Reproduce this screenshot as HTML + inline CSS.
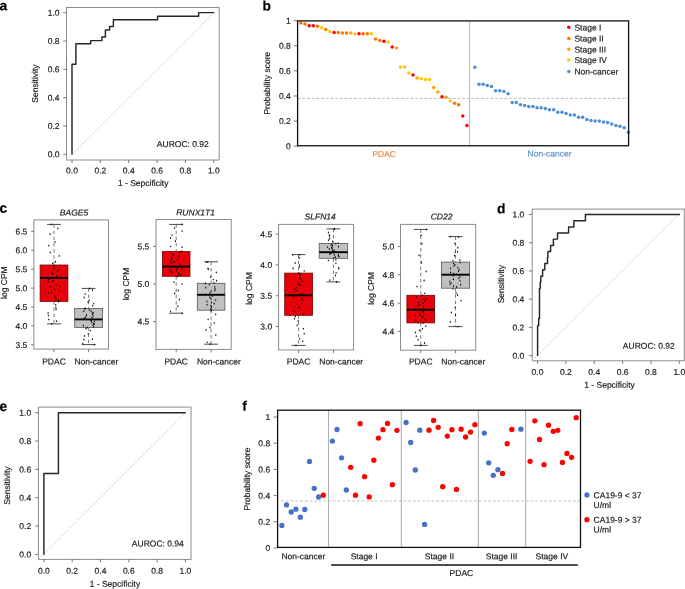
<!DOCTYPE html>
<html><head><meta charset="utf-8"><title>Figure</title>
<style>
html,body{margin:0;padding:0;background:#fff;width:685px;height:589px;overflow:hidden}
svg{display:block;will-change:transform}
text{font-family:"Liberation Sans",sans-serif;stroke:currentColor;stroke-width:0.18px;text-rendering:geometricPrecision}
</style></head><body>
<svg width="685" height="589" viewBox="0 0 685 589">
<rect x="0" y="0" width="685" height="589" fill="#fff"/>
<text x="-0.6" y="10.3" transform="rotate(0.05 -0.6 10.3)" font-size="13.8" font-weight="bold" fill="#000" color="#000">a</text>
<rect x="66.5" y="7.5" width="152.7" height="152.5" fill="none" stroke="#8c8c8c" stroke-width="1.0" />
<line x1="63.2" y1="154.3" x2="66.5" y2="154.3" stroke="#5a5a5a" stroke-width="0.8" />
<text x="59.6" y="157.35000000000002" transform="rotate(0.05 59.6 157.35000000000002)" font-size="8.5" text-anchor="end" fill="#1a1a1a" color="#1a1a1a" >0.0</text>
<line x1="63.2" y1="125.98" x2="66.5" y2="125.98" stroke="#5a5a5a" stroke-width="0.8" />
<text x="59.6" y="129.03" transform="rotate(0.05 59.6 129.03)" font-size="8.5" text-anchor="end" fill="#1a1a1a" color="#1a1a1a" >0.2</text>
<line x1="63.2" y1="97.66" x2="66.5" y2="97.66" stroke="#5a5a5a" stroke-width="0.8" />
<text x="59.6" y="100.71" transform="rotate(0.05 59.6 100.71)" font-size="8.5" text-anchor="end" fill="#1a1a1a" color="#1a1a1a" >0.4</text>
<line x1="63.2" y1="69.34" x2="66.5" y2="69.34" stroke="#5a5a5a" stroke-width="0.8" />
<text x="59.6" y="72.39" transform="rotate(0.05 59.6 72.39)" font-size="8.5" text-anchor="end" fill="#1a1a1a" color="#1a1a1a" >0.6</text>
<line x1="63.2" y1="41.019999999999996" x2="66.5" y2="41.019999999999996" stroke="#5a5a5a" stroke-width="0.8" />
<text x="59.6" y="44.06999999999999" transform="rotate(0.05 59.6 44.06999999999999)" font-size="8.5" text-anchor="end" fill="#1a1a1a" color="#1a1a1a" >0.8</text>
<line x1="63.2" y1="12.699999999999989" x2="66.5" y2="12.699999999999989" stroke="#5a5a5a" stroke-width="0.8" />
<text x="59.6" y="15.74999999999999" transform="rotate(0.05 59.6 15.74999999999999)" font-size="8.5" text-anchor="end" fill="#1a1a1a" color="#1a1a1a" >1.0</text>
<line x1="72.0" y1="160.0" x2="72.0" y2="163.0" stroke="#5a5a5a" stroke-width="0.8" />
<text x="72.0" y="173.5" transform="rotate(0.05 72.0 173.5)" font-size="8.5" text-anchor="middle" fill="#1a1a1a" color="#1a1a1a" >0.0</text>
<line x1="100.36" y1="160.0" x2="100.36" y2="163.0" stroke="#5a5a5a" stroke-width="0.8" />
<text x="100.36" y="173.5" transform="rotate(0.05 100.36 173.5)" font-size="8.5" text-anchor="middle" fill="#1a1a1a" color="#1a1a1a" >0.2</text>
<line x1="128.72" y1="160.0" x2="128.72" y2="163.0" stroke="#5a5a5a" stroke-width="0.8" />
<text x="128.72" y="173.5" transform="rotate(0.05 128.72 173.5)" font-size="8.5" text-anchor="middle" fill="#1a1a1a" color="#1a1a1a" >0.4</text>
<line x1="157.08" y1="160.0" x2="157.08" y2="163.0" stroke="#5a5a5a" stroke-width="0.8" />
<text x="157.08" y="173.5" transform="rotate(0.05 157.08 173.5)" font-size="8.5" text-anchor="middle" fill="#1a1a1a" color="#1a1a1a" >0.6</text>
<line x1="185.44" y1="160.0" x2="185.44" y2="163.0" stroke="#5a5a5a" stroke-width="0.8" />
<text x="185.44" y="173.5" transform="rotate(0.05 185.44 173.5)" font-size="8.5" text-anchor="middle" fill="#1a1a1a" color="#1a1a1a" >0.8</text>
<line x1="213.8" y1="160.0" x2="213.8" y2="163.0" stroke="#5a5a5a" stroke-width="0.8" />
<text x="213.8" y="173.5" transform="rotate(0.05 213.8 173.5)" font-size="8.5" text-anchor="middle" fill="#1a1a1a" color="#1a1a1a" >1.0</text>
<line x1="66.5" y1="160.0" x2="219.2" y2="7.5" stroke="#c8c8c8" stroke-width="1.0" stroke-dasharray="1.9 1.8"/>
<path d="M72,154.1 V64.3 H75.9 V43.7 H90.7 V40.6 H101.9 V37.0 H105.4 V29.9 H109.6 V26.5 H113.4 V19.8 H157.6 V16.2 H198.6 V12.6 H213.8" fill="none" stroke="#262626" stroke-width="1.45" stroke-linejoin="round" stroke-linecap="round"/>
<text x="208.8" y="147.0" transform="rotate(0.05 208.8 147.0)" font-size="8.5" text-anchor="end" fill="#1a1a1a" color="#1a1a1a" >AUROC: 0.92</text>
<text x="143.2" y="185.9" transform="rotate(0.05 143.2 185.9)" font-size="8.5" text-anchor="middle" fill="#1a1a1a" color="#1a1a1a" >1 - Sepcificity</text>
<text transform="translate(38.4,83.6) rotate(-90)" font-size="8.5" text-anchor="middle" fill="#1a1a1a" color="#1a1a1a">Sensitivity</text>
<text x="497.0" y="213.3" transform="rotate(0.05 497.0 213.3)" font-size="13.8" font-weight="bold" fill="#000" color="#000">d</text>
<rect x="532.2" y="209.1" width="152.0999999999999" height="151.70000000000002" fill="none" stroke="#8c8c8c" stroke-width="1.0" />
<line x1="528.9000000000001" y1="355.6" x2="532.2" y2="355.6" stroke="#5a5a5a" stroke-width="0.8" />
<text x="524.3" y="358.65000000000003" transform="rotate(0.05 524.3 358.65000000000003)" font-size="8.5" text-anchor="end" fill="#1a1a1a" color="#1a1a1a" >0.0</text>
<line x1="528.9000000000001" y1="327.38" x2="532.2" y2="327.38" stroke="#5a5a5a" stroke-width="0.8" />
<text x="524.3" y="330.43" transform="rotate(0.05 524.3 330.43)" font-size="8.5" text-anchor="end" fill="#1a1a1a" color="#1a1a1a" >0.2</text>
<line x1="528.9000000000001" y1="299.16" x2="532.2" y2="299.16" stroke="#5a5a5a" stroke-width="0.8" />
<text x="524.3" y="302.21000000000004" transform="rotate(0.05 524.3 302.21000000000004)" font-size="8.5" text-anchor="end" fill="#1a1a1a" color="#1a1a1a" >0.4</text>
<line x1="528.9000000000001" y1="270.94" x2="532.2" y2="270.94" stroke="#5a5a5a" stroke-width="0.8" />
<text x="524.3" y="273.99" transform="rotate(0.05 524.3 273.99)" font-size="8.5" text-anchor="end" fill="#1a1a1a" color="#1a1a1a" >0.6</text>
<line x1="528.9000000000001" y1="242.72" x2="532.2" y2="242.72" stroke="#5a5a5a" stroke-width="0.8" />
<text x="524.3" y="245.77" transform="rotate(0.05 524.3 245.77)" font-size="8.5" text-anchor="end" fill="#1a1a1a" color="#1a1a1a" >0.8</text>
<line x1="528.9000000000001" y1="214.5" x2="532.2" y2="214.5" stroke="#5a5a5a" stroke-width="0.8" />
<text x="524.3" y="217.55" transform="rotate(0.05 524.3 217.55)" font-size="8.5" text-anchor="end" fill="#1a1a1a" color="#1a1a1a" >1.0</text>
<line x1="537.5" y1="360.8" x2="537.5" y2="363.8" stroke="#5a5a5a" stroke-width="0.8" />
<text x="537.5" y="375.0" transform="rotate(0.05 537.5 375.0)" font-size="8.5" text-anchor="middle" fill="#1a1a1a" color="#1a1a1a" >0.0</text>
<line x1="565.86" y1="360.8" x2="565.86" y2="363.8" stroke="#5a5a5a" stroke-width="0.8" />
<text x="565.86" y="375.0" transform="rotate(0.05 565.86 375.0)" font-size="8.5" text-anchor="middle" fill="#1a1a1a" color="#1a1a1a" >0.2</text>
<line x1="594.22" y1="360.8" x2="594.22" y2="363.8" stroke="#5a5a5a" stroke-width="0.8" />
<text x="594.22" y="375.0" transform="rotate(0.05 594.22 375.0)" font-size="8.5" text-anchor="middle" fill="#1a1a1a" color="#1a1a1a" >0.4</text>
<line x1="622.5799999999999" y1="360.8" x2="622.5799999999999" y2="363.8" stroke="#5a5a5a" stroke-width="0.8" />
<text x="622.5799999999999" y="375.0" transform="rotate(0.05 622.5799999999999 375.0)" font-size="8.5" text-anchor="middle" fill="#1a1a1a" color="#1a1a1a" >0.6</text>
<line x1="650.9399999999999" y1="360.8" x2="650.9399999999999" y2="363.8" stroke="#5a5a5a" stroke-width="0.8" />
<text x="650.9399999999999" y="375.0" transform="rotate(0.05 650.9399999999999 375.0)" font-size="8.5" text-anchor="middle" fill="#1a1a1a" color="#1a1a1a" >0.8</text>
<line x1="679.3" y1="360.8" x2="679.3" y2="363.8" stroke="#5a5a5a" stroke-width="0.8" />
<text x="679.3" y="375.0" transform="rotate(0.05 679.3 375.0)" font-size="8.5" text-anchor="middle" fill="#1a1a1a" color="#1a1a1a" >1.0</text>
<line x1="532.2" y1="360.8" x2="684.3" y2="209.1" stroke="#c8c8c8" stroke-width="1.0" stroke-dasharray="1.9 1.8"/>
<path d="M537.6,355.4 V325.6 H538.7 V318.4 H539.5 V288.5 H540.2 V282.2 H540.8 V276.3 H542.6 V269.7 H544.8 V263.5 H547.5 V257.5 H547.9 V251.5 H550.6 V245.5 H553.4 V239.1 H557.5 V233.0 H568.6 V226.9 H573.9 V220.7 H585.4 V214.5 H679.3" fill="none" stroke="#262626" stroke-width="1.45" stroke-linejoin="round" stroke-linecap="round"/>
<text x="674.8" y="348.7" transform="rotate(0.05 674.8 348.7)" font-size="8.5" text-anchor="end" fill="#1a1a1a" color="#1a1a1a" >AUROC: 0.92</text>
<text x="609.5" y="387.8" transform="rotate(0.05 609.5 387.8)" font-size="8.5" text-anchor="middle" fill="#1a1a1a" color="#1a1a1a" >1 - Sepcificity</text>
<text transform="translate(504.3,284.2) rotate(-90)" font-size="8.5" text-anchor="middle" fill="#1a1a1a" color="#1a1a1a">Sensitivity</text>
<text x="-0.6" y="411.0" transform="rotate(0.05 -0.6 411.0)" font-size="13.8" font-weight="bold" fill="#000" color="#000">e</text>
<rect x="38.4" y="407.1" width="152.6" height="152.29999999999995" fill="none" stroke="#8c8c8c" stroke-width="1.0" />
<line x1="35.1" y1="554.4" x2="38.4" y2="554.4" stroke="#5a5a5a" stroke-width="0.8" />
<text x="31.2" y="557.4499999999999" transform="rotate(0.05 31.2 557.4499999999999)" font-size="8.5" text-anchor="end" fill="#1a1a1a" color="#1a1a1a" >0.0</text>
<line x1="35.1" y1="526.06" x2="38.4" y2="526.06" stroke="#5a5a5a" stroke-width="0.8" />
<text x="31.2" y="529.1099999999999" transform="rotate(0.05 31.2 529.1099999999999)" font-size="8.5" text-anchor="end" fill="#1a1a1a" color="#1a1a1a" >0.2</text>
<line x1="35.1" y1="497.71999999999997" x2="38.4" y2="497.71999999999997" stroke="#5a5a5a" stroke-width="0.8" />
<text x="31.2" y="500.77" transform="rotate(0.05 31.2 500.77)" font-size="8.5" text-anchor="end" fill="#1a1a1a" color="#1a1a1a" >0.4</text>
<line x1="35.1" y1="469.38" x2="38.4" y2="469.38" stroke="#5a5a5a" stroke-width="0.8" />
<text x="31.2" y="472.43" transform="rotate(0.05 31.2 472.43)" font-size="8.5" text-anchor="end" fill="#1a1a1a" color="#1a1a1a" >0.6</text>
<line x1="35.1" y1="441.03999999999996" x2="38.4" y2="441.03999999999996" stroke="#5a5a5a" stroke-width="0.8" />
<text x="31.2" y="444.09" transform="rotate(0.05 31.2 444.09)" font-size="8.5" text-anchor="end" fill="#1a1a1a" color="#1a1a1a" >0.8</text>
<line x1="35.1" y1="412.7" x2="38.4" y2="412.7" stroke="#5a5a5a" stroke-width="0.8" />
<text x="31.2" y="415.75" transform="rotate(0.05 31.2 415.75)" font-size="8.5" text-anchor="end" fill="#1a1a1a" color="#1a1a1a" >1.0</text>
<line x1="43.9" y1="559.4" x2="43.9" y2="562.4" stroke="#5a5a5a" stroke-width="0.8" />
<text x="43.9" y="573.8" transform="rotate(0.05 43.9 573.8)" font-size="8.5" text-anchor="middle" fill="#1a1a1a" color="#1a1a1a" >0.0</text>
<line x1="72.2" y1="559.4" x2="72.2" y2="562.4" stroke="#5a5a5a" stroke-width="0.8" />
<text x="72.2" y="573.8" transform="rotate(0.05 72.2 573.8)" font-size="8.5" text-anchor="middle" fill="#1a1a1a" color="#1a1a1a" >0.2</text>
<line x1="100.5" y1="559.4" x2="100.5" y2="562.4" stroke="#5a5a5a" stroke-width="0.8" />
<text x="100.5" y="573.8" transform="rotate(0.05 100.5 573.8)" font-size="8.5" text-anchor="middle" fill="#1a1a1a" color="#1a1a1a" >0.4</text>
<line x1="128.8" y1="559.4" x2="128.8" y2="562.4" stroke="#5a5a5a" stroke-width="0.8" />
<text x="128.8" y="573.8" transform="rotate(0.05 128.8 573.8)" font-size="8.5" text-anchor="middle" fill="#1a1a1a" color="#1a1a1a" >0.6</text>
<line x1="157.1" y1="559.4" x2="157.1" y2="562.4" stroke="#5a5a5a" stroke-width="0.8" />
<text x="157.1" y="573.8" transform="rotate(0.05 157.1 573.8)" font-size="8.5" text-anchor="middle" fill="#1a1a1a" color="#1a1a1a" >0.8</text>
<line x1="185.4" y1="559.4" x2="185.4" y2="562.4" stroke="#5a5a5a" stroke-width="0.8" />
<text x="185.4" y="573.8" transform="rotate(0.05 185.4 573.8)" font-size="8.5" text-anchor="middle" fill="#1a1a1a" color="#1a1a1a" >1.0</text>
<line x1="38.4" y1="559.4" x2="191.0" y2="407.1" stroke="#c8c8c8" stroke-width="1.0" stroke-dasharray="1.9 1.8"/>
<path d="M43.9,554.2 V473.4 H58.4 V412.8 H185.2" fill="none" stroke="#262626" stroke-width="1.45" stroke-linejoin="round" stroke-linecap="round"/>
<text x="183.8" y="546.5" transform="rotate(0.05 183.8 546.5)" font-size="8.5" text-anchor="end" fill="#1a1a1a" color="#1a1a1a" >AUROC: 0.94</text>
<text x="114.9" y="586.7" transform="rotate(0.05 114.9 586.7)" font-size="8.5" text-anchor="middle" fill="#1a1a1a" color="#1a1a1a" >1 - Sepcificity</text>
<text transform="translate(10.3,485.6) rotate(-90)" font-size="8.5" text-anchor="middle" fill="#1a1a1a" color="#1a1a1a">Sensitivity</text>
<text x="262.4" y="10.4" transform="rotate(0.05 262.4 10.4)" font-size="13.8" font-weight="bold" fill="#000" color="#000">b</text>
<line x1="293.6" y1="146.1" x2="297.6" y2="146.1" stroke="#5a5a5a" stroke-width="0.8" />
<text x="290.8" y="149.15" transform="rotate(0.05 290.8 149.15)" font-size="8.5" text-anchor="end" fill="#1a1a1a" color="#1a1a1a" >0</text>
<line x1="293.6" y1="121.02" x2="297.6" y2="121.02" stroke="#5a5a5a" stroke-width="0.8" />
<text x="290.8" y="124.07" transform="rotate(0.05 290.8 124.07)" font-size="8.5" text-anchor="end" fill="#1a1a1a" color="#1a1a1a" >0.2</text>
<line x1="293.6" y1="95.94" x2="297.6" y2="95.94" stroke="#5a5a5a" stroke-width="0.8" />
<text x="290.8" y="98.99" transform="rotate(0.05 290.8 98.99)" font-size="8.5" text-anchor="end" fill="#1a1a1a" color="#1a1a1a" >0.4</text>
<line x1="293.6" y1="70.86" x2="297.6" y2="70.86" stroke="#5a5a5a" stroke-width="0.8" />
<text x="290.8" y="73.91" transform="rotate(0.05 290.8 73.91)" font-size="8.5" text-anchor="end" fill="#1a1a1a" color="#1a1a1a" >0.6</text>
<line x1="293.6" y1="45.78" x2="297.6" y2="45.78" stroke="#5a5a5a" stroke-width="0.8" />
<text x="290.8" y="48.83" transform="rotate(0.05 290.8 48.83)" font-size="8.5" text-anchor="end" fill="#1a1a1a" color="#1a1a1a" >0.8</text>
<line x1="293.6" y1="20.700000000000003" x2="297.6" y2="20.700000000000003" stroke="#5a5a5a" stroke-width="0.8" />
<text x="290.8" y="23.750000000000004" transform="rotate(0.05 290.8 23.750000000000004)" font-size="8.5" text-anchor="end" fill="#1a1a1a" color="#1a1a1a" >1</text>
<text transform="translate(270.2,83.2) rotate(-90)" font-size="8.5" text-anchor="middle" fill="#1a1a1a" color="#1a1a1a">Probability score</text>
<line x1="469.6" y1="20.9" x2="469.6" y2="145.75" stroke="#b8b8b8" stroke-width="1.0" />
<circle cx="300.88" cy="22.90" r="1.75" fill="#ff7300"/>
<circle cx="305.03" cy="24.10" r="1.75" fill="#ff7300"/>
<circle cx="309.18" cy="25.70" r="1.75" fill="#ff0000"/>
<circle cx="313.34" cy="25.70" r="1.75" fill="#ff0000"/>
<circle cx="317.49" cy="26.30" r="1.75" fill="#ff7300"/>
<circle cx="321.64" cy="27.80" r="1.75" fill="#ffc800"/>
<circle cx="325.79" cy="29.40" r="1.75" fill="#ff7300"/>
<circle cx="329.94" cy="31.60" r="1.75" fill="#ffc800"/>
<circle cx="334.10" cy="32.40" r="1.75" fill="#ff0000"/>
<circle cx="338.25" cy="32.40" r="1.75" fill="#ff7300"/>
<circle cx="342.40" cy="33.10" r="1.75" fill="#ff7300"/>
<circle cx="346.55" cy="33.10" r="1.75" fill="#ff7300"/>
<circle cx="350.70" cy="33.10" r="1.75" fill="#ffa500"/>
<circle cx="354.86" cy="33.90" r="1.75" fill="#ffc800"/>
<circle cx="359.01" cy="33.70" r="1.75" fill="#ff0000"/>
<circle cx="363.16" cy="33.80" r="1.75" fill="#ff7300"/>
<circle cx="367.31" cy="33.80" r="1.75" fill="#ff7300"/>
<circle cx="371.46" cy="33.80" r="1.75" fill="#ffc800"/>
<circle cx="375.62" cy="39.00" r="1.75" fill="#ff7300"/>
<circle cx="379.77" cy="40.50" r="1.75" fill="#ff7300"/>
<circle cx="383.92" cy="41.30" r="1.75" fill="#ff0000"/>
<circle cx="388.07" cy="41.90" r="1.75" fill="#ffc800"/>
<circle cx="392.22" cy="47.00" r="1.75" fill="#ff0000"/>
<circle cx="396.38" cy="48.00" r="1.75" fill="#ffa500"/>
<circle cx="400.53" cy="67.10" r="1.75" fill="#ffc800"/>
<circle cx="404.68" cy="67.10" r="1.75" fill="#ffc800"/>
<circle cx="408.83" cy="73.00" r="1.75" fill="#ffc800"/>
<circle cx="412.98" cy="75.10" r="1.75" fill="#ff0000"/>
<circle cx="417.14" cy="78.10" r="1.75" fill="#ffa500"/>
<circle cx="421.29" cy="78.80" r="1.75" fill="#ffc800"/>
<circle cx="425.44" cy="79.50" r="1.75" fill="#ffc800"/>
<circle cx="429.59" cy="79.50" r="1.75" fill="#ffc800"/>
<circle cx="433.74" cy="87.60" r="1.75" fill="#ffa500"/>
<circle cx="437.90" cy="92.10" r="1.75" fill="#ffa500"/>
<circle cx="442.05" cy="96.70" r="1.75" fill="#ff0000"/>
<circle cx="446.20" cy="97.30" r="1.75" fill="#ffa500"/>
<circle cx="450.35" cy="101.00" r="1.75" fill="#ffc800"/>
<circle cx="454.50" cy="103.30" r="1.75" fill="#ff7300"/>
<circle cx="458.66" cy="104.80" r="1.75" fill="#ff7300"/>
<circle cx="462.81" cy="115.90" r="1.75" fill="#ff0000"/>
<circle cx="466.96" cy="125.40" r="1.75" fill="#ff0000"/>
<circle cx="474.83" cy="67.20" r="1.75" fill="#4c8fd8"/>
<circle cx="478.98" cy="84.20" r="1.75" fill="#4c8fd8"/>
<circle cx="483.13" cy="84.20" r="1.75" fill="#4c8fd8"/>
<circle cx="487.28" cy="85.50" r="1.75" fill="#4c8fd8"/>
<circle cx="491.42" cy="86.40" r="1.75" fill="#4c8fd8"/>
<circle cx="495.57" cy="90.80" r="1.75" fill="#4c8fd8"/>
<circle cx="499.72" cy="90.80" r="1.75" fill="#4c8fd8"/>
<circle cx="503.87" cy="91.40" r="1.75" fill="#4c8fd8"/>
<circle cx="508.02" cy="93.80" r="1.75" fill="#4c8fd8"/>
<circle cx="512.17" cy="102.60" r="1.75" fill="#4c8fd8"/>
<circle cx="516.32" cy="102.60" r="1.75" fill="#4c8fd8"/>
<circle cx="520.46" cy="104.70" r="1.75" fill="#4c8fd8"/>
<circle cx="524.61" cy="105.50" r="1.75" fill="#4c8fd8"/>
<circle cx="528.76" cy="106.40" r="1.75" fill="#4c8fd8"/>
<circle cx="532.91" cy="106.40" r="1.75" fill="#4c8fd8"/>
<circle cx="537.06" cy="107.80" r="1.75" fill="#4c8fd8"/>
<circle cx="541.21" cy="107.80" r="1.75" fill="#4c8fd8"/>
<circle cx="545.36" cy="108.40" r="1.75" fill="#4c8fd8"/>
<circle cx="549.50" cy="109.80" r="1.75" fill="#4c8fd8"/>
<circle cx="553.65" cy="109.80" r="1.75" fill="#4c8fd8"/>
<circle cx="557.80" cy="112.20" r="1.75" fill="#4c8fd8"/>
<circle cx="561.95" cy="112.20" r="1.75" fill="#4c8fd8"/>
<circle cx="566.10" cy="113.50" r="1.75" fill="#4c8fd8"/>
<circle cx="570.25" cy="115.10" r="1.75" fill="#4c8fd8"/>
<circle cx="574.40" cy="115.10" r="1.75" fill="#4c8fd8"/>
<circle cx="578.54" cy="117.30" r="1.75" fill="#4c8fd8"/>
<circle cx="582.69" cy="117.30" r="1.75" fill="#4c8fd8"/>
<circle cx="586.84" cy="119.40" r="1.75" fill="#4c8fd8"/>
<circle cx="590.99" cy="120.40" r="1.75" fill="#4c8fd8"/>
<circle cx="595.14" cy="121.10" r="1.75" fill="#4c8fd8"/>
<circle cx="599.29" cy="121.10" r="1.75" fill="#4c8fd8"/>
<circle cx="603.44" cy="121.90" r="1.75" fill="#4c8fd8"/>
<circle cx="607.59" cy="122.60" r="1.75" fill="#4c8fd8"/>
<circle cx="611.73" cy="124.00" r="1.75" fill="#4c8fd8"/>
<circle cx="615.88" cy="125.50" r="1.75" fill="#4c8fd8"/>
<circle cx="620.03" cy="126.30" r="1.75" fill="#4c8fd8"/>
<circle cx="624.18" cy="127.70" r="1.75" fill="#4c8fd8"/>
<circle cx="628.33" cy="132.20" r="1.75" fill="#4c8fd8"/>
<line x1="297.6" y1="98.4" x2="628.6" y2="98.4" stroke="#a8a8a8" stroke-width="0.8" stroke-dasharray="2.8 1.9"/>
<rect x="297.6" y="20.9" width="331.0" height="124.85" fill="none" stroke="#111" stroke-width="1.3" />
<text x="384.2" y="157.0" transform="rotate(0.05 384.2 157.0)" font-size="8.5" text-anchor="middle" fill="#f08a3c" color="#f08a3c" >PDAC</text>
<text x="549.5" y="156.6" transform="rotate(0.05 549.5 156.6)" font-size="8.5" text-anchor="middle" fill="#5b8fd0" color="#5b8fd0" >Non-cancer</text>
<circle cx="568.80" cy="27.30" r="1.75" fill="#ff0000"/>
<text x="574.4" y="30.400000000000002" transform="rotate(0.05 574.4 30.400000000000002)" font-size="8.5" text-anchor="start" fill="#1a1a1a" color="#1a1a1a" >Stage I</text>
<circle cx="568.80" cy="38.40" r="1.75" fill="#ff7300"/>
<text x="574.4" y="41.5" transform="rotate(0.05 574.4 41.5)" font-size="8.5" text-anchor="start" fill="#1a1a1a" color="#1a1a1a" >Stage II</text>
<circle cx="568.80" cy="49.30" r="1.75" fill="#ffa500"/>
<text x="574.4" y="52.4" transform="rotate(0.05 574.4 52.4)" font-size="8.5" text-anchor="start" fill="#1a1a1a" color="#1a1a1a" >Stage III</text>
<circle cx="568.80" cy="59.90" r="1.75" fill="#ffc800"/>
<text x="574.4" y="63.0" transform="rotate(0.05 574.4 63.0)" font-size="8.5" text-anchor="start" fill="#1a1a1a" color="#1a1a1a" >Stage IV</text>
<circle cx="568.80" cy="71.50" r="1.75" fill="#4c8fd8"/>
<text x="574.4" y="74.6" transform="rotate(0.05 574.4 74.6)" font-size="8.5" text-anchor="start" fill="#1a1a1a" color="#1a1a1a" >Non-cancer</text>
<text x="-0.6" y="212.7" transform="rotate(0.05 -0.6 212.7)" font-size="13.8" font-weight="bold" fill="#000" color="#000">c</text>
<rect x="33.9" y="219.9" width="74.6" height="129.20000000000002" fill="none" stroke="#8c8c8c" stroke-width="1.0" />
<line x1="31.099999999999998" y1="344.845" x2="33.9" y2="344.845" stroke="#5a5a5a" stroke-width="0.8" />
<text x="27.3" y="347.89500000000004" transform="rotate(0.05 27.3 347.89500000000004)" font-size="8.5" text-anchor="end" fill="#1a1a1a" color="#1a1a1a" >3.5</text>
<line x1="31.099999999999998" y1="325.93" x2="33.9" y2="325.93" stroke="#5a5a5a" stroke-width="0.8" />
<text x="27.3" y="328.98" transform="rotate(0.05 27.3 328.98)" font-size="8.5" text-anchor="end" fill="#1a1a1a" color="#1a1a1a" >4.0</text>
<line x1="31.099999999999998" y1="307.01500000000004" x2="33.9" y2="307.01500000000004" stroke="#5a5a5a" stroke-width="0.8" />
<text x="27.3" y="310.06500000000005" transform="rotate(0.05 27.3 310.06500000000005)" font-size="8.5" text-anchor="end" fill="#1a1a1a" color="#1a1a1a" >4.5</text>
<line x1="31.099999999999998" y1="288.1" x2="33.9" y2="288.1" stroke="#5a5a5a" stroke-width="0.8" />
<text x="27.3" y="291.15000000000003" transform="rotate(0.05 27.3 291.15000000000003)" font-size="8.5" text-anchor="end" fill="#1a1a1a" color="#1a1a1a" >5.0</text>
<line x1="31.099999999999998" y1="269.185" x2="33.9" y2="269.185" stroke="#5a5a5a" stroke-width="0.8" />
<text x="27.3" y="272.235" transform="rotate(0.05 27.3 272.235)" font-size="8.5" text-anchor="end" fill="#1a1a1a" color="#1a1a1a" >5.5</text>
<line x1="31.099999999999998" y1="250.27000000000004" x2="33.9" y2="250.27000000000004" stroke="#5a5a5a" stroke-width="0.8" />
<text x="27.3" y="253.32000000000005" transform="rotate(0.05 27.3 253.32000000000005)" font-size="8.5" text-anchor="end" fill="#1a1a1a" color="#1a1a1a" >6.0</text>
<line x1="31.099999999999998" y1="231.35500000000002" x2="33.9" y2="231.35500000000002" stroke="#5a5a5a" stroke-width="0.8" />
<text x="27.3" y="234.40500000000003" transform="rotate(0.05 27.3 234.40500000000003)" font-size="8.5" text-anchor="end" fill="#1a1a1a" color="#1a1a1a" >6.5</text>
<text x="74.0" y="215.5" transform="rotate(0.05 74.0 215.5)" font-size="8.5" text-anchor="middle" fill="#1a1a1a" color="#1a1a1a" font-style="italic">BAGE5</text>
<text transform="translate(6.9,282.6) rotate(-90)" font-size="8.5" text-anchor="middle" fill="#1a1a1a" color="#1a1a1a">log CPM</text>
<line x1="54.0" y1="349.1" x2="54.0" y2="352.1" stroke="#5a5a5a" stroke-width="0.8" />
<text x="54.0" y="364.4" transform="rotate(0.05 54.0 364.4)" font-size="8.5" text-anchor="middle" fill="#1a1a1a" color="#1a1a1a" >PDAC</text>
<line x1="54.0" y1="224.4" x2="54.0" y2="265.0" stroke="#555" stroke-width="0.8" stroke-dasharray="3.4 2.8"/>
<line x1="54.0" y1="301.4" x2="54.0" y2="323.9" stroke="#555" stroke-width="0.8" stroke-dasharray="3.4 2.8"/>
<line x1="47.1" y1="224.4" x2="60.9" y2="224.4" stroke="#333" stroke-width="0.9" />
<line x1="47.1" y1="323.9" x2="60.9" y2="323.9" stroke="#333" stroke-width="0.9" />
<rect x="40.1" y="265.0" width="27.800000000000004" height="36.39999999999998" fill="#e8000b" stroke="#7a0000" stroke-width="0.8" />
<line x1="40.1" y1="277.9" x2="67.9" y2="277.9" stroke="#000" stroke-width="1.9" />
<ellipse cx="51.3" cy="224.4" rx="0.6" ry="0.9" fill="#000"/>
<ellipse cx="51.7" cy="323.9" rx="0.6" ry="0.9" fill="#000"/>
<ellipse cx="54.1" cy="265.8" rx="0.6" ry="0.9" fill="#000"/>
<ellipse cx="54.2" cy="267.4" rx="0.6" ry="0.9" fill="#000"/>
<ellipse cx="59.0" cy="269.7" rx="0.6" ry="0.9" fill="#000"/>
<ellipse cx="57.7" cy="271.3" rx="0.6" ry="0.9" fill="#000"/>
<ellipse cx="52.0" cy="272.9" rx="0.6" ry="0.9" fill="#000"/>
<ellipse cx="52.5" cy="273.9" rx="0.6" ry="0.9" fill="#000"/>
<ellipse cx="56.4" cy="276.5" rx="0.6" ry="0.9" fill="#000"/>
<ellipse cx="56.9" cy="276.9" rx="0.6" ry="0.9" fill="#000"/>
<ellipse cx="48.6" cy="279.5" rx="0.6" ry="0.9" fill="#000"/>
<ellipse cx="53.1" cy="281.0" rx="0.6" ry="0.9" fill="#000"/>
<ellipse cx="48.1" cy="281.9" rx="0.6" ry="0.9" fill="#000"/>
<ellipse cx="56.3" cy="284.8" rx="0.6" ry="0.9" fill="#000"/>
<ellipse cx="59.7" cy="286.0" rx="0.6" ry="0.9" fill="#000"/>
<ellipse cx="50.1" cy="286.6" rx="0.6" ry="0.9" fill="#000"/>
<ellipse cx="54.9" cy="289.4" rx="0.6" ry="0.9" fill="#000"/>
<ellipse cx="59.3" cy="290.9" rx="0.6" ry="0.9" fill="#000"/>
<ellipse cx="51.7" cy="292.3" rx="0.6" ry="0.9" fill="#000"/>
<ellipse cx="48.6" cy="293.1" rx="0.6" ry="0.9" fill="#000"/>
<ellipse cx="55.0" cy="295.9" rx="0.6" ry="0.9" fill="#000"/>
<ellipse cx="55.2" cy="298.0" rx="0.6" ry="0.9" fill="#000"/>
<ellipse cx="55.9" cy="299.6" rx="0.6" ry="0.9" fill="#000"/>
<ellipse cx="58.5" cy="300.2" rx="0.6" ry="0.9" fill="#000"/>
<ellipse cx="52.6" cy="263.4" rx="0.6" ry="0.9" fill="#000"/>
<ellipse cx="55.4" cy="261.7" rx="0.6" ry="0.9" fill="#000"/>
<ellipse cx="59.2" cy="255.9" rx="0.6" ry="0.9" fill="#000"/>
<ellipse cx="50.2" cy="252.5" rx="0.6" ry="0.9" fill="#000"/>
<ellipse cx="48.7" cy="245.6" rx="0.6" ry="0.9" fill="#000"/>
<ellipse cx="55.0" cy="242.0" rx="0.6" ry="0.9" fill="#000"/>
<ellipse cx="50.0" cy="234.2" rx="0.6" ry="0.9" fill="#000"/>
<ellipse cx="57.8" cy="228.4" rx="0.6" ry="0.9" fill="#000"/>
<ellipse cx="58.6" cy="301.7" rx="0.6" ry="0.9" fill="#000"/>
<ellipse cx="55.8" cy="304.8" rx="0.6" ry="0.9" fill="#000"/>
<ellipse cx="55.9" cy="307.5" rx="0.6" ry="0.9" fill="#000"/>
<ellipse cx="56.1" cy="309.4" rx="0.6" ry="0.9" fill="#000"/>
<ellipse cx="48.1" cy="313.0" rx="0.6" ry="0.9" fill="#000"/>
<ellipse cx="48.3" cy="315.6" rx="0.6" ry="0.9" fill="#000"/>
<ellipse cx="48.8" cy="319.5" rx="0.6" ry="0.9" fill="#000"/>
<ellipse cx="56.5" cy="321.2" rx="0.6" ry="0.9" fill="#000"/>
<line x1="88.65" y1="349.1" x2="88.65" y2="352.1" stroke="#5a5a5a" stroke-width="0.8" />
<text x="74.45" y="364.4" transform="rotate(0.05 74.45 364.4)" font-size="8.5" text-anchor="start" fill="#1a1a1a" color="#1a1a1a" >Non-cancer</text>
<line x1="88.65" y1="288.4" x2="88.65" y2="308.4" stroke="#555" stroke-width="0.8" stroke-dasharray="3.4 2.8"/>
<line x1="88.65" y1="327.4" x2="88.65" y2="344.6" stroke="#555" stroke-width="0.8" stroke-dasharray="3.4 2.8"/>
<line x1="81.75" y1="288.4" x2="95.55000000000001" y2="288.4" stroke="#333" stroke-width="0.9" />
<line x1="81.75" y1="344.6" x2="95.55000000000001" y2="344.6" stroke="#333" stroke-width="0.9" />
<rect x="74.7" y="308.4" width="27.89999999999999" height="19.0" fill="#c0c0c0" stroke="#555" stroke-width="0.8" />
<line x1="74.7" y1="319.4" x2="102.6" y2="319.4" stroke="#000" stroke-width="1.9" />
<ellipse cx="89.7" cy="288.4" rx="0.6" ry="0.9" fill="#000"/>
<ellipse cx="94.5" cy="344.6" rx="0.6" ry="0.9" fill="#000"/>
<ellipse cx="84.6" cy="308.7" rx="0.6" ry="0.9" fill="#000"/>
<ellipse cx="89.2" cy="309.8" rx="0.6" ry="0.9" fill="#000"/>
<ellipse cx="91.0" cy="310.8" rx="0.6" ry="0.9" fill="#000"/>
<ellipse cx="83.8" cy="311.2" rx="0.6" ry="0.9" fill="#000"/>
<ellipse cx="92.2" cy="312.3" rx="0.6" ry="0.9" fill="#000"/>
<ellipse cx="93.3" cy="313.1" rx="0.6" ry="0.9" fill="#000"/>
<ellipse cx="92.4" cy="314.2" rx="0.6" ry="0.9" fill="#000"/>
<ellipse cx="86.5" cy="315.0" rx="0.6" ry="0.9" fill="#000"/>
<ellipse cx="93.1" cy="316.1" rx="0.6" ry="0.9" fill="#000"/>
<ellipse cx="85.8" cy="316.9" rx="0.6" ry="0.9" fill="#000"/>
<ellipse cx="92.0" cy="317.4" rx="0.6" ry="0.9" fill="#000"/>
<ellipse cx="84.3" cy="318.1" rx="0.6" ry="0.9" fill="#000"/>
<ellipse cx="85.3" cy="319.1" rx="0.6" ry="0.9" fill="#000"/>
<ellipse cx="90.7" cy="320.0" rx="0.6" ry="0.9" fill="#000"/>
<ellipse cx="91.4" cy="321.0" rx="0.6" ry="0.9" fill="#000"/>
<ellipse cx="94.5" cy="321.4" rx="0.6" ry="0.9" fill="#000"/>
<ellipse cx="91.9" cy="322.6" rx="0.6" ry="0.9" fill="#000"/>
<ellipse cx="93.7" cy="323.7" rx="0.6" ry="0.9" fill="#000"/>
<ellipse cx="94.3" cy="324.1" rx="0.6" ry="0.9" fill="#000"/>
<ellipse cx="93.0" cy="325.2" rx="0.6" ry="0.9" fill="#000"/>
<ellipse cx="83.4" cy="325.7" rx="0.6" ry="0.9" fill="#000"/>
<ellipse cx="93.7" cy="326.8" rx="0.6" ry="0.9" fill="#000"/>
<ellipse cx="85.4" cy="308.3" rx="0.6" ry="0.9" fill="#000"/>
<ellipse cx="92.7" cy="305.6" rx="0.6" ry="0.9" fill="#000"/>
<ellipse cx="93.8" cy="303.6" rx="0.6" ry="0.9" fill="#000"/>
<ellipse cx="88.1" cy="301.9" rx="0.6" ry="0.9" fill="#000"/>
<ellipse cx="89.2" cy="300.2" rx="0.6" ry="0.9" fill="#000"/>
<ellipse cx="84.1" cy="297.4" rx="0.6" ry="0.9" fill="#000"/>
<ellipse cx="85.2" cy="294.1" rx="0.6" ry="0.9" fill="#000"/>
<ellipse cx="92.5" cy="290.0" rx="0.6" ry="0.9" fill="#000"/>
<ellipse cx="87.2" cy="327.5" rx="0.6" ry="0.9" fill="#000"/>
<ellipse cx="86.0" cy="328.7" rx="0.6" ry="0.9" fill="#000"/>
<ellipse cx="90.3" cy="330.6" rx="0.6" ry="0.9" fill="#000"/>
<ellipse cx="88.2" cy="333.8" rx="0.6" ry="0.9" fill="#000"/>
<ellipse cx="84.4" cy="335.9" rx="0.6" ry="0.9" fill="#000"/>
<ellipse cx="92.4" cy="339.2" rx="0.6" ry="0.9" fill="#000"/>
<ellipse cx="83.9" cy="339.7" rx="0.6" ry="0.9" fill="#000"/>
<ellipse cx="82.8" cy="343.7" rx="0.6" ry="0.9" fill="#000"/>
<rect x="156.0" y="219.5" width="75.19999999999999" height="129.89999999999998" fill="none" stroke="#8c8c8c" stroke-width="1.0" />
<line x1="153.2" y1="321.55" x2="156.0" y2="321.55" stroke="#5a5a5a" stroke-width="0.8" />
<text x="149.3" y="324.6" transform="rotate(0.05 149.3 324.6)" font-size="8.5" text-anchor="end" fill="#1a1a1a" color="#1a1a1a" >4.5</text>
<line x1="153.2" y1="284.0" x2="156.0" y2="284.0" stroke="#5a5a5a" stroke-width="0.8" />
<text x="149.3" y="287.05" transform="rotate(0.05 149.3 287.05)" font-size="8.5" text-anchor="end" fill="#1a1a1a" color="#1a1a1a" >5.0</text>
<line x1="153.2" y1="246.45" x2="156.0" y2="246.45" stroke="#5a5a5a" stroke-width="0.8" />
<text x="149.3" y="249.5" transform="rotate(0.05 149.3 249.5)" font-size="8.5" text-anchor="end" fill="#1a1a1a" color="#1a1a1a" >5.5</text>
<text x="195.6" y="215.4" transform="rotate(0.05 195.6 215.4)" font-size="8.5" text-anchor="middle" fill="#1a1a1a" color="#1a1a1a" font-style="italic">RUNX1T1</text>
<text transform="translate(128.9,284.0) rotate(-90)" font-size="8.5" text-anchor="middle" fill="#1a1a1a" color="#1a1a1a">log CPM</text>
<line x1="176.2" y1="349.4" x2="176.2" y2="352.4" stroke="#5a5a5a" stroke-width="0.8" />
<text x="176.2" y="364.4" transform="rotate(0.05 176.2 364.4)" font-size="8.5" text-anchor="middle" fill="#1a1a1a" color="#1a1a1a" >PDAC</text>
<line x1="176.2" y1="224.4" x2="176.2" y2="251.4" stroke="#555" stroke-width="0.8" stroke-dasharray="3.4 2.8"/>
<line x1="176.2" y1="276.3" x2="176.2" y2="313.2" stroke="#555" stroke-width="0.8" stroke-dasharray="3.4 2.8"/>
<line x1="169.29999999999998" y1="224.4" x2="183.1" y2="224.4" stroke="#333" stroke-width="0.9" />
<line x1="169.29999999999998" y1="313.2" x2="183.1" y2="313.2" stroke="#333" stroke-width="0.9" />
<rect x="162.4" y="251.4" width="27.599999999999994" height="24.900000000000006" fill="#e8000b" stroke="#7a0000" stroke-width="0.8" />
<line x1="162.4" y1="266.6" x2="190.0" y2="266.6" stroke="#000" stroke-width="1.9" />
<ellipse cx="181.8" cy="224.4" rx="0.6" ry="0.9" fill="#000"/>
<ellipse cx="182.0" cy="313.2" rx="0.6" ry="0.9" fill="#000"/>
<ellipse cx="181.9" cy="251.7" rx="0.6" ry="0.9" fill="#000"/>
<ellipse cx="179.5" cy="252.5" rx="0.6" ry="0.9" fill="#000"/>
<ellipse cx="173.2" cy="254.0" rx="0.6" ry="0.9" fill="#000"/>
<ellipse cx="173.3" cy="255.4" rx="0.6" ry="0.9" fill="#000"/>
<ellipse cx="178.9" cy="256.3" rx="0.6" ry="0.9" fill="#000"/>
<ellipse cx="171.5" cy="257.5" rx="0.6" ry="0.9" fill="#000"/>
<ellipse cx="172.3" cy="259.1" rx="0.6" ry="0.9" fill="#000"/>
<ellipse cx="177.3" cy="259.7" rx="0.6" ry="0.9" fill="#000"/>
<ellipse cx="171.0" cy="260.6" rx="0.6" ry="0.9" fill="#000"/>
<ellipse cx="174.4" cy="261.9" rx="0.6" ry="0.9" fill="#000"/>
<ellipse cx="171.1" cy="262.8" rx="0.6" ry="0.9" fill="#000"/>
<ellipse cx="180.2" cy="264.4" rx="0.6" ry="0.9" fill="#000"/>
<ellipse cx="171.8" cy="265.9" rx="0.6" ry="0.9" fill="#000"/>
<ellipse cx="178.4" cy="266.7" rx="0.6" ry="0.9" fill="#000"/>
<ellipse cx="177.0" cy="268.3" rx="0.6" ry="0.9" fill="#000"/>
<ellipse cx="181.8" cy="268.7" rx="0.6" ry="0.9" fill="#000"/>
<ellipse cx="170.4" cy="270.1" rx="0.6" ry="0.9" fill="#000"/>
<ellipse cx="176.3" cy="270.6" rx="0.6" ry="0.9" fill="#000"/>
<ellipse cx="171.8" cy="272.2" rx="0.6" ry="0.9" fill="#000"/>
<ellipse cx="178.2" cy="273.1" rx="0.6" ry="0.9" fill="#000"/>
<ellipse cx="180.4" cy="274.6" rx="0.6" ry="0.9" fill="#000"/>
<ellipse cx="178.1" cy="275.3" rx="0.6" ry="0.9" fill="#000"/>
<ellipse cx="181.2" cy="251.3" rx="0.6" ry="0.9" fill="#000"/>
<ellipse cx="182.1" cy="247.2" rx="0.6" ry="0.9" fill="#000"/>
<ellipse cx="170.7" cy="246.3" rx="0.6" ry="0.9" fill="#000"/>
<ellipse cx="175.4" cy="241.2" rx="0.6" ry="0.9" fill="#000"/>
<ellipse cx="170.6" cy="238.0" rx="0.6" ry="0.9" fill="#000"/>
<ellipse cx="172.1" cy="235.1" rx="0.6" ry="0.9" fill="#000"/>
<ellipse cx="182.1" cy="231.1" rx="0.6" ry="0.9" fill="#000"/>
<ellipse cx="174.5" cy="228.1" rx="0.6" ry="0.9" fill="#000"/>
<ellipse cx="177.5" cy="276.4" rx="0.6" ry="0.9" fill="#000"/>
<ellipse cx="174.0" cy="282.1" rx="0.6" ry="0.9" fill="#000"/>
<ellipse cx="182.0" cy="284.1" rx="0.6" ry="0.9" fill="#000"/>
<ellipse cx="178.2" cy="290.5" rx="0.6" ry="0.9" fill="#000"/>
<ellipse cx="174.7" cy="293.4" rx="0.6" ry="0.9" fill="#000"/>
<ellipse cx="179.4" cy="299.5" rx="0.6" ry="0.9" fill="#000"/>
<ellipse cx="177.8" cy="306.2" rx="0.6" ry="0.9" fill="#000"/>
<ellipse cx="170.6" cy="311.3" rx="0.6" ry="0.9" fill="#000"/>
<line x1="211.10000000000002" y1="349.4" x2="211.10000000000002" y2="352.4" stroke="#5a5a5a" stroke-width="0.8" />
<text x="196.90000000000003" y="364.4" transform="rotate(0.05 196.90000000000003 364.4)" font-size="8.5" text-anchor="start" fill="#1a1a1a" color="#1a1a1a" >Non-cancer</text>
<line x1="211.10000000000002" y1="261.8" x2="211.10000000000002" y2="283.3" stroke="#555" stroke-width="0.8" stroke-dasharray="3.4 2.8"/>
<line x1="211.10000000000002" y1="310.2" x2="211.10000000000002" y2="344.2" stroke="#555" stroke-width="0.8" stroke-dasharray="3.4 2.8"/>
<line x1="204.20000000000002" y1="261.8" x2="218.00000000000003" y2="261.8" stroke="#333" stroke-width="0.9" />
<line x1="204.20000000000002" y1="344.2" x2="218.00000000000003" y2="344.2" stroke="#333" stroke-width="0.9" />
<rect x="197.3" y="283.3" width="27.599999999999994" height="26.899999999999977" fill="#c0c0c0" stroke="#555" stroke-width="0.8" />
<line x1="197.3" y1="294.8" x2="224.9" y2="294.8" stroke="#000" stroke-width="1.9" />
<ellipse cx="207.9" cy="261.8" rx="0.6" ry="0.9" fill="#000"/>
<ellipse cx="210.1" cy="344.2" rx="0.6" ry="0.9" fill="#000"/>
<ellipse cx="205.4" cy="283.5" rx="0.6" ry="0.9" fill="#000"/>
<ellipse cx="209.2" cy="284.6" rx="0.6" ry="0.9" fill="#000"/>
<ellipse cx="214.9" cy="286.8" rx="0.6" ry="0.9" fill="#000"/>
<ellipse cx="205.7" cy="287.7" rx="0.6" ry="0.9" fill="#000"/>
<ellipse cx="215.0" cy="288.8" rx="0.6" ry="0.9" fill="#000"/>
<ellipse cx="215.0" cy="290.4" rx="0.6" ry="0.9" fill="#000"/>
<ellipse cx="211.2" cy="291.1" rx="0.6" ry="0.9" fill="#000"/>
<ellipse cx="210.0" cy="292.9" rx="0.6" ry="0.9" fill="#000"/>
<ellipse cx="205.2" cy="294.3" rx="0.6" ry="0.9" fill="#000"/>
<ellipse cx="209.1" cy="294.6" rx="0.6" ry="0.9" fill="#000"/>
<ellipse cx="212.2" cy="296.1" rx="0.6" ry="0.9" fill="#000"/>
<ellipse cx="209.9" cy="297.2" rx="0.6" ry="0.9" fill="#000"/>
<ellipse cx="210.9" cy="298.7" rx="0.6" ry="0.9" fill="#000"/>
<ellipse cx="215.7" cy="300.1" rx="0.6" ry="0.9" fill="#000"/>
<ellipse cx="207.0" cy="301.4" rx="0.6" ry="0.9" fill="#000"/>
<ellipse cx="211.4" cy="302.5" rx="0.6" ry="0.9" fill="#000"/>
<ellipse cx="214.1" cy="303.5" rx="0.6" ry="0.9" fill="#000"/>
<ellipse cx="207.1" cy="304.7" rx="0.6" ry="0.9" fill="#000"/>
<ellipse cx="210.9" cy="305.6" rx="0.6" ry="0.9" fill="#000"/>
<ellipse cx="211.5" cy="307.0" rx="0.6" ry="0.9" fill="#000"/>
<ellipse cx="210.7" cy="308.8" rx="0.6" ry="0.9" fill="#000"/>
<ellipse cx="211.6" cy="309.8" rx="0.6" ry="0.9" fill="#000"/>
<ellipse cx="214.0" cy="282.8" rx="0.6" ry="0.9" fill="#000"/>
<ellipse cx="216.6" cy="280.7" rx="0.6" ry="0.9" fill="#000"/>
<ellipse cx="213.2" cy="279.6" rx="0.6" ry="0.9" fill="#000"/>
<ellipse cx="210.7" cy="276.8" rx="0.6" ry="0.9" fill="#000"/>
<ellipse cx="216.3" cy="272.4" rx="0.6" ry="0.9" fill="#000"/>
<ellipse cx="208.3" cy="269.3" rx="0.6" ry="0.9" fill="#000"/>
<ellipse cx="208.0" cy="268.4" rx="0.6" ry="0.9" fill="#000"/>
<ellipse cx="206.5" cy="262.1" rx="0.6" ry="0.9" fill="#000"/>
<ellipse cx="211.0" cy="310.8" rx="0.6" ry="0.9" fill="#000"/>
<ellipse cx="215.7" cy="314.3" rx="0.6" ry="0.9" fill="#000"/>
<ellipse cx="208.1" cy="319.3" rx="0.6" ry="0.9" fill="#000"/>
<ellipse cx="214.3" cy="323.1" rx="0.6" ry="0.9" fill="#000"/>
<ellipse cx="210.0" cy="327.5" rx="0.6" ry="0.9" fill="#000"/>
<ellipse cx="206.1" cy="329.9" rx="0.6" ry="0.9" fill="#000"/>
<ellipse cx="215.8" cy="334.9" rx="0.6" ry="0.9" fill="#000"/>
<ellipse cx="207.2" cy="342.3" rx="0.6" ry="0.9" fill="#000"/>
<rect x="278.6" y="224.4" width="75.0" height="125.6" fill="none" stroke="#8c8c8c" stroke-width="1.0" />
<line x1="275.8" y1="326.55" x2="278.6" y2="326.55" stroke="#5a5a5a" stroke-width="0.8" />
<text x="272.2" y="329.6" transform="rotate(0.05 272.2 329.6)" font-size="8.5" text-anchor="end" fill="#1a1a1a" color="#1a1a1a" >3.0</text>
<line x1="275.8" y1="295.75" x2="278.6" y2="295.75" stroke="#5a5a5a" stroke-width="0.8" />
<text x="272.2" y="298.8" transform="rotate(0.05 272.2 298.8)" font-size="8.5" text-anchor="end" fill="#1a1a1a" color="#1a1a1a" >3.5</text>
<line x1="275.8" y1="264.95000000000005" x2="278.6" y2="264.95000000000005" stroke="#5a5a5a" stroke-width="0.8" />
<text x="272.2" y="268.00000000000006" transform="rotate(0.05 272.2 268.00000000000006)" font-size="8.5" text-anchor="end" fill="#1a1a1a" color="#1a1a1a" >4.0</text>
<line x1="275.8" y1="234.15000000000003" x2="278.6" y2="234.15000000000003" stroke="#5a5a5a" stroke-width="0.8" />
<text x="272.2" y="237.20000000000005" transform="rotate(0.05 272.2 237.20000000000005)" font-size="8.5" text-anchor="end" fill="#1a1a1a" color="#1a1a1a" >4.5</text>
<text x="320.2" y="219.6" transform="rotate(0.05 320.2 219.6)" font-size="8.5" text-anchor="middle" fill="#1a1a1a" color="#1a1a1a" font-style="italic">SLFN14</text>
<text transform="translate(251.6,288.5) rotate(-90)" font-size="8.5" text-anchor="middle" fill="#1a1a1a" color="#1a1a1a">log CPM</text>
<line x1="298.6" y1="350.0" x2="298.6" y2="353.0" stroke="#5a5a5a" stroke-width="0.8" />
<text x="298.6" y="364.4" transform="rotate(0.05 298.6 364.4)" font-size="8.5" text-anchor="middle" fill="#1a1a1a" color="#1a1a1a" >PDAC</text>
<line x1="298.6" y1="254.6" x2="298.6" y2="273.1" stroke="#555" stroke-width="0.8" stroke-dasharray="3.4 2.8"/>
<line x1="298.6" y1="315.3" x2="298.6" y2="345.4" stroke="#555" stroke-width="0.8" stroke-dasharray="3.4 2.8"/>
<line x1="291.70000000000005" y1="254.6" x2="305.5" y2="254.6" stroke="#333" stroke-width="0.9" />
<line x1="291.70000000000005" y1="345.4" x2="305.5" y2="345.4" stroke="#333" stroke-width="0.9" />
<rect x="284.7" y="273.1" width="27.80000000000001" height="42.19999999999999" fill="#e8000b" stroke="#7a0000" stroke-width="0.8" />
<line x1="284.7" y1="295.3" x2="312.5" y2="295.3" stroke="#000" stroke-width="1.9" />
<ellipse cx="299.8" cy="254.6" rx="0.6" ry="0.9" fill="#000"/>
<ellipse cx="296.0" cy="345.4" rx="0.6" ry="0.9" fill="#000"/>
<ellipse cx="300.3" cy="274.4" rx="0.6" ry="0.9" fill="#000"/>
<ellipse cx="300.1" cy="275.0" rx="0.6" ry="0.9" fill="#000"/>
<ellipse cx="299.9" cy="277.6" rx="0.6" ry="0.9" fill="#000"/>
<ellipse cx="300.8" cy="279.3" rx="0.6" ry="0.9" fill="#000"/>
<ellipse cx="302.1" cy="281.4" rx="0.6" ry="0.9" fill="#000"/>
<ellipse cx="298.4" cy="284.0" rx="0.6" ry="0.9" fill="#000"/>
<ellipse cx="300.3" cy="285.2" rx="0.6" ry="0.9" fill="#000"/>
<ellipse cx="296.2" cy="287.6" rx="0.6" ry="0.9" fill="#000"/>
<ellipse cx="294.9" cy="289.5" rx="0.6" ry="0.9" fill="#000"/>
<ellipse cx="296.9" cy="291.0" rx="0.6" ry="0.9" fill="#000"/>
<ellipse cx="302.0" cy="293.6" rx="0.6" ry="0.9" fill="#000"/>
<ellipse cx="296.1" cy="295.3" rx="0.6" ry="0.9" fill="#000"/>
<ellipse cx="293.7" cy="296.5" rx="0.6" ry="0.9" fill="#000"/>
<ellipse cx="301.7" cy="298.7" rx="0.6" ry="0.9" fill="#000"/>
<ellipse cx="302.7" cy="300.1" rx="0.6" ry="0.9" fill="#000"/>
<ellipse cx="301.8" cy="303.5" rx="0.6" ry="0.9" fill="#000"/>
<ellipse cx="297.5" cy="304.0" rx="0.6" ry="0.9" fill="#000"/>
<ellipse cx="299.1" cy="307.0" rx="0.6" ry="0.9" fill="#000"/>
<ellipse cx="298.9" cy="307.8" rx="0.6" ry="0.9" fill="#000"/>
<ellipse cx="293.8" cy="310.8" rx="0.6" ry="0.9" fill="#000"/>
<ellipse cx="295.3" cy="312.1" rx="0.6" ry="0.9" fill="#000"/>
<ellipse cx="303.0" cy="314.4" rx="0.6" ry="0.9" fill="#000"/>
<ellipse cx="298.7" cy="272.9" rx="0.6" ry="0.9" fill="#000"/>
<ellipse cx="304.2" cy="270.8" rx="0.6" ry="0.9" fill="#000"/>
<ellipse cx="293.1" cy="268.5" rx="0.6" ry="0.9" fill="#000"/>
<ellipse cx="299.3" cy="266.8" rx="0.6" ry="0.9" fill="#000"/>
<ellipse cx="299.5" cy="265.1" rx="0.6" ry="0.9" fill="#000"/>
<ellipse cx="295.2" cy="263.0" rx="0.6" ry="0.9" fill="#000"/>
<ellipse cx="299.2" cy="258.0" rx="0.6" ry="0.9" fill="#000"/>
<ellipse cx="292.8" cy="254.8" rx="0.6" ry="0.9" fill="#000"/>
<ellipse cx="295.4" cy="316.4" rx="0.6" ry="0.9" fill="#000"/>
<ellipse cx="294.6" cy="318.6" rx="0.6" ry="0.9" fill="#000"/>
<ellipse cx="298.1" cy="320.9" rx="0.6" ry="0.9" fill="#000"/>
<ellipse cx="297.1" cy="325.4" rx="0.6" ry="0.9" fill="#000"/>
<ellipse cx="303.5" cy="328.6" rx="0.6" ry="0.9" fill="#000"/>
<ellipse cx="304.2" cy="333.7" rx="0.6" ry="0.9" fill="#000"/>
<ellipse cx="299.7" cy="338.6" rx="0.6" ry="0.9" fill="#000"/>
<ellipse cx="302.8" cy="341.3" rx="0.6" ry="0.9" fill="#000"/>
<line x1="333.45" y1="350.0" x2="333.45" y2="353.0" stroke="#5a5a5a" stroke-width="0.8" />
<text x="319.25" y="364.4" transform="rotate(0.05 319.25 364.4)" font-size="8.5" text-anchor="start" fill="#1a1a1a" color="#1a1a1a" >Non-cancer</text>
<line x1="333.45" y1="228.9" x2="333.45" y2="243.4" stroke="#555" stroke-width="0.8" stroke-dasharray="3.4 2.8"/>
<line x1="333.45" y1="258.3" x2="333.45" y2="281.9" stroke="#555" stroke-width="0.8" stroke-dasharray="3.4 2.8"/>
<line x1="326.55" y1="228.9" x2="340.34999999999997" y2="228.9" stroke="#333" stroke-width="0.9" />
<line x1="326.55" y1="281.9" x2="340.34999999999997" y2="281.9" stroke="#333" stroke-width="0.9" />
<rect x="319.2" y="243.4" width="28.5" height="14.900000000000006" fill="#c0c0c0" stroke="#555" stroke-width="0.8" />
<line x1="319.2" y1="252.2" x2="347.7" y2="252.2" stroke="#000" stroke-width="1.9" />
<ellipse cx="334.6" cy="228.9" rx="0.6" ry="0.9" fill="#000"/>
<ellipse cx="336.5" cy="281.9" rx="0.6" ry="0.9" fill="#000"/>
<ellipse cx="335.7" cy="243.6" rx="0.6" ry="0.9" fill="#000"/>
<ellipse cx="331.1" cy="244.7" rx="0.6" ry="0.9" fill="#000"/>
<ellipse cx="332.3" cy="245.2" rx="0.6" ry="0.9" fill="#000"/>
<ellipse cx="332.3" cy="246.1" rx="0.6" ry="0.9" fill="#000"/>
<ellipse cx="338.5" cy="246.6" rx="0.6" ry="0.9" fill="#000"/>
<ellipse cx="327.5" cy="247.1" rx="0.6" ry="0.9" fill="#000"/>
<ellipse cx="331.5" cy="247.6" rx="0.6" ry="0.9" fill="#000"/>
<ellipse cx="332.1" cy="248.2" rx="0.6" ry="0.9" fill="#000"/>
<ellipse cx="329.3" cy="248.9" rx="0.6" ry="0.9" fill="#000"/>
<ellipse cx="332.4" cy="249.8" rx="0.6" ry="0.9" fill="#000"/>
<ellipse cx="334.1" cy="250.4" rx="0.6" ry="0.9" fill="#000"/>
<ellipse cx="332.9" cy="251.2" rx="0.6" ry="0.9" fill="#000"/>
<ellipse cx="335.8" cy="252.2" rx="0.6" ry="0.9" fill="#000"/>
<ellipse cx="333.9" cy="252.7" rx="0.6" ry="0.9" fill="#000"/>
<ellipse cx="331.0" cy="253.5" rx="0.6" ry="0.9" fill="#000"/>
<ellipse cx="329.7" cy="253.9" rx="0.6" ry="0.9" fill="#000"/>
<ellipse cx="338.5" cy="254.8" rx="0.6" ry="0.9" fill="#000"/>
<ellipse cx="334.3" cy="254.9" rx="0.6" ry="0.9" fill="#000"/>
<ellipse cx="338.3" cy="255.8" rx="0.6" ry="0.9" fill="#000"/>
<ellipse cx="339.0" cy="256.6" rx="0.6" ry="0.9" fill="#000"/>
<ellipse cx="335.4" cy="257.2" rx="0.6" ry="0.9" fill="#000"/>
<ellipse cx="333.8" cy="257.8" rx="0.6" ry="0.9" fill="#000"/>
<ellipse cx="337.9" cy="243.1" rx="0.6" ry="0.9" fill="#000"/>
<ellipse cx="332.7" cy="241.5" rx="0.6" ry="0.9" fill="#000"/>
<ellipse cx="328.5" cy="240.1" rx="0.6" ry="0.9" fill="#000"/>
<ellipse cx="329.6" cy="238.5" rx="0.6" ry="0.9" fill="#000"/>
<ellipse cx="329.7" cy="236.0" rx="0.6" ry="0.9" fill="#000"/>
<ellipse cx="329.2" cy="235.1" rx="0.6" ry="0.9" fill="#000"/>
<ellipse cx="328.4" cy="232.5" rx="0.6" ry="0.9" fill="#000"/>
<ellipse cx="334.2" cy="229.2" rx="0.6" ry="0.9" fill="#000"/>
<ellipse cx="335.9" cy="259.9" rx="0.6" ry="0.9" fill="#000"/>
<ellipse cx="328.3" cy="260.6" rx="0.6" ry="0.9" fill="#000"/>
<ellipse cx="335.9" cy="263.3" rx="0.6" ry="0.9" fill="#000"/>
<ellipse cx="338.6" cy="267.8" rx="0.6" ry="0.9" fill="#000"/>
<ellipse cx="338.8" cy="268.6" rx="0.6" ry="0.9" fill="#000"/>
<ellipse cx="336.1" cy="272.8" rx="0.6" ry="0.9" fill="#000"/>
<ellipse cx="335.4" cy="275.5" rx="0.6" ry="0.9" fill="#000"/>
<ellipse cx="329.8" cy="280.1" rx="0.6" ry="0.9" fill="#000"/>
<rect x="400.5" y="224.4" width="75.19999999999999" height="125.79999999999998" fill="none" stroke="#8c8c8c" stroke-width="1.0" />
<line x1="397.7" y1="331.41999999999996" x2="400.5" y2="331.41999999999996" stroke="#5a5a5a" stroke-width="0.8" />
<text x="394.3" y="334.46999999999997" transform="rotate(0.05 394.3 334.46999999999997)" font-size="8.5" text-anchor="end" fill="#1a1a1a" color="#1a1a1a" >4.4</text>
<line x1="397.7" y1="303.1400000000001" x2="400.5" y2="303.1400000000001" stroke="#5a5a5a" stroke-width="0.8" />
<text x="394.3" y="306.1900000000001" transform="rotate(0.05 394.3 306.1900000000001)" font-size="8.5" text-anchor="end" fill="#1a1a1a" color="#1a1a1a" >4.6</text>
<line x1="397.7" y1="274.86000000000007" x2="400.5" y2="274.86000000000007" stroke="#5a5a5a" stroke-width="0.8" />
<text x="394.3" y="277.9100000000001" transform="rotate(0.05 394.3 277.9100000000001)" font-size="8.5" text-anchor="end" fill="#1a1a1a" color="#1a1a1a" >4.8</text>
<line x1="397.7" y1="246.58000000000004" x2="400.5" y2="246.58000000000004" stroke="#5a5a5a" stroke-width="0.8" />
<text x="394.3" y="249.63000000000005" transform="rotate(0.05 394.3 249.63000000000005)" font-size="8.5" text-anchor="end" fill="#1a1a1a" color="#1a1a1a" >5.0</text>
<text x="441.5" y="219.6" transform="rotate(0.05 441.5 219.6)" font-size="8.5" text-anchor="middle" fill="#1a1a1a" color="#1a1a1a" font-style="italic">CD22</text>
<text transform="translate(373.8,288.4) rotate(-90)" font-size="8.5" text-anchor="middle" fill="#1a1a1a" color="#1a1a1a">log CPM</text>
<line x1="420.75" y1="350.2" x2="420.75" y2="353.2" stroke="#5a5a5a" stroke-width="0.8" />
<text x="420.75" y="364.4" transform="rotate(0.05 420.75 364.4)" font-size="8.5" text-anchor="middle" fill="#1a1a1a" color="#1a1a1a" >PDAC</text>
<line x1="420.75" y1="229.4" x2="420.75" y2="295.3" stroke="#555" stroke-width="0.8" stroke-dasharray="3.4 2.8"/>
<line x1="420.75" y1="322.9" x2="420.75" y2="345.4" stroke="#555" stroke-width="0.8" stroke-dasharray="3.4 2.8"/>
<line x1="413.85" y1="229.4" x2="427.65" y2="229.4" stroke="#333" stroke-width="0.9" />
<line x1="413.85" y1="345.4" x2="427.65" y2="345.4" stroke="#333" stroke-width="0.9" />
<rect x="406.9" y="295.3" width="27.700000000000045" height="27.599999999999966" fill="#e8000b" stroke="#7a0000" stroke-width="0.8" />
<line x1="406.9" y1="309.7" x2="434.6" y2="309.7" stroke="#000" stroke-width="1.9" />
<ellipse cx="426.5" cy="229.4" rx="0.6" ry="0.9" fill="#000"/>
<ellipse cx="421.0" cy="345.4" rx="0.6" ry="0.9" fill="#000"/>
<ellipse cx="422.4" cy="295.4" rx="0.6" ry="0.9" fill="#000"/>
<ellipse cx="416.5" cy="296.8" rx="0.6" ry="0.9" fill="#000"/>
<ellipse cx="425.8" cy="299.0" rx="0.6" ry="0.9" fill="#000"/>
<ellipse cx="423.2" cy="299.2" rx="0.6" ry="0.9" fill="#000"/>
<ellipse cx="424.8" cy="300.9" rx="0.6" ry="0.9" fill="#000"/>
<ellipse cx="418.4" cy="302.4" rx="0.6" ry="0.9" fill="#000"/>
<ellipse cx="423.0" cy="303.5" rx="0.6" ry="0.9" fill="#000"/>
<ellipse cx="419.8" cy="304.9" rx="0.6" ry="0.9" fill="#000"/>
<ellipse cx="418.2" cy="305.6" rx="0.6" ry="0.9" fill="#000"/>
<ellipse cx="423.5" cy="307.0" rx="0.6" ry="0.9" fill="#000"/>
<ellipse cx="415.4" cy="308.7" rx="0.6" ry="0.9" fill="#000"/>
<ellipse cx="419.5" cy="309.4" rx="0.6" ry="0.9" fill="#000"/>
<ellipse cx="423.4" cy="311.3" rx="0.6" ry="0.9" fill="#000"/>
<ellipse cx="422.8" cy="311.7" rx="0.6" ry="0.9" fill="#000"/>
<ellipse cx="419.5" cy="313.7" rx="0.6" ry="0.9" fill="#000"/>
<ellipse cx="420.4" cy="315.2" rx="0.6" ry="0.9" fill="#000"/>
<ellipse cx="415.4" cy="315.6" rx="0.6" ry="0.9" fill="#000"/>
<ellipse cx="422.8" cy="317.1" rx="0.6" ry="0.9" fill="#000"/>
<ellipse cx="425.2" cy="319.0" rx="0.6" ry="0.9" fill="#000"/>
<ellipse cx="415.9" cy="320.3" rx="0.6" ry="0.9" fill="#000"/>
<ellipse cx="426.0" cy="320.4" rx="0.6" ry="0.9" fill="#000"/>
<ellipse cx="417.9" cy="322.5" rx="0.6" ry="0.9" fill="#000"/>
<ellipse cx="424.7" cy="293.3" rx="0.6" ry="0.9" fill="#000"/>
<ellipse cx="417.0" cy="286.6" rx="0.6" ry="0.9" fill="#000"/>
<ellipse cx="424.1" cy="280.5" rx="0.6" ry="0.9" fill="#000"/>
<ellipse cx="426.1" cy="271.5" rx="0.6" ry="0.9" fill="#000"/>
<ellipse cx="421.6" cy="262.7" rx="0.6" ry="0.9" fill="#000"/>
<ellipse cx="419.0" cy="255.4" rx="0.6" ry="0.9" fill="#000"/>
<ellipse cx="422.0" cy="243.7" rx="0.6" ry="0.9" fill="#000"/>
<ellipse cx="421.1" cy="235.4" rx="0.6" ry="0.9" fill="#000"/>
<ellipse cx="423.0" cy="323.0" rx="0.6" ry="0.9" fill="#000"/>
<ellipse cx="425.8" cy="326.2" rx="0.6" ry="0.9" fill="#000"/>
<ellipse cx="422.5" cy="328.7" rx="0.6" ry="0.9" fill="#000"/>
<ellipse cx="419.3" cy="330.3" rx="0.6" ry="0.9" fill="#000"/>
<ellipse cx="415.4" cy="332.4" rx="0.6" ry="0.9" fill="#000"/>
<ellipse cx="416.3" cy="336.2" rx="0.6" ry="0.9" fill="#000"/>
<ellipse cx="418.1" cy="339.8" rx="0.6" ry="0.9" fill="#000"/>
<ellipse cx="424.5" cy="343.0" rx="0.6" ry="0.9" fill="#000"/>
<line x1="455.55" y1="350.2" x2="455.55" y2="353.2" stroke="#5a5a5a" stroke-width="0.8" />
<text x="441.35" y="364.4" transform="rotate(0.05 441.35 364.4)" font-size="8.5" text-anchor="start" fill="#1a1a1a" color="#1a1a1a" >Non-cancer</text>
<line x1="455.55" y1="236.6" x2="455.55" y2="262.1" stroke="#555" stroke-width="0.8" stroke-dasharray="3.4 2.8"/>
<line x1="455.55" y1="288.2" x2="455.55" y2="326.6" stroke="#555" stroke-width="0.8" stroke-dasharray="3.4 2.8"/>
<line x1="448.65000000000003" y1="236.6" x2="462.45" y2="236.6" stroke="#333" stroke-width="0.9" />
<line x1="448.65000000000003" y1="326.6" x2="462.45" y2="326.6" stroke="#333" stroke-width="0.9" />
<rect x="441.5" y="262.1" width="28.100000000000023" height="26.099999999999966" fill="#c0c0c0" stroke="#555" stroke-width="0.8" />
<line x1="441.5" y1="274.7" x2="469.6" y2="274.7" stroke="#000" stroke-width="1.9" />
<ellipse cx="450.2" cy="236.6" rx="0.6" ry="0.9" fill="#000"/>
<ellipse cx="457.8" cy="326.6" rx="0.6" ry="0.9" fill="#000"/>
<ellipse cx="460.2" cy="262.6" rx="0.6" ry="0.9" fill="#000"/>
<ellipse cx="453.5" cy="263.4" rx="0.6" ry="0.9" fill="#000"/>
<ellipse cx="455.0" cy="264.6" rx="0.6" ry="0.9" fill="#000"/>
<ellipse cx="454.1" cy="265.9" rx="0.6" ry="0.9" fill="#000"/>
<ellipse cx="457.9" cy="267.6" rx="0.6" ry="0.9" fill="#000"/>
<ellipse cx="450.6" cy="268.3" rx="0.6" ry="0.9" fill="#000"/>
<ellipse cx="459.1" cy="269.6" rx="0.6" ry="0.9" fill="#000"/>
<ellipse cx="458.5" cy="271.2" rx="0.6" ry="0.9" fill="#000"/>
<ellipse cx="450.5" cy="272.4" rx="0.6" ry="0.9" fill="#000"/>
<ellipse cx="453.8" cy="273.3" rx="0.6" ry="0.9" fill="#000"/>
<ellipse cx="456.9" cy="274.1" rx="0.6" ry="0.9" fill="#000"/>
<ellipse cx="453.2" cy="275.7" rx="0.6" ry="0.9" fill="#000"/>
<ellipse cx="459.9" cy="276.8" rx="0.6" ry="0.9" fill="#000"/>
<ellipse cx="458.7" cy="278.3" rx="0.6" ry="0.9" fill="#000"/>
<ellipse cx="453.3" cy="279.2" rx="0.6" ry="0.9" fill="#000"/>
<ellipse cx="460.0" cy="280.8" rx="0.6" ry="0.9" fill="#000"/>
<ellipse cx="449.8" cy="281.5" rx="0.6" ry="0.9" fill="#000"/>
<ellipse cx="451.0" cy="283.2" rx="0.6" ry="0.9" fill="#000"/>
<ellipse cx="450.0" cy="284.3" rx="0.6" ry="0.9" fill="#000"/>
<ellipse cx="460.7" cy="284.7" rx="0.6" ry="0.9" fill="#000"/>
<ellipse cx="453.5" cy="286.1" rx="0.6" ry="0.9" fill="#000"/>
<ellipse cx="456.7" cy="287.0" rx="0.6" ry="0.9" fill="#000"/>
<ellipse cx="453.0" cy="260.7" rx="0.6" ry="0.9" fill="#000"/>
<ellipse cx="459.9" cy="260.2" rx="0.6" ry="0.9" fill="#000"/>
<ellipse cx="454.6" cy="255.7" rx="0.6" ry="0.9" fill="#000"/>
<ellipse cx="455.2" cy="252.1" rx="0.6" ry="0.9" fill="#000"/>
<ellipse cx="457.6" cy="251.7" rx="0.6" ry="0.9" fill="#000"/>
<ellipse cx="457.8" cy="247.7" rx="0.6" ry="0.9" fill="#000"/>
<ellipse cx="454.9" cy="243.4" rx="0.6" ry="0.9" fill="#000"/>
<ellipse cx="458.7" cy="237.1" rx="0.6" ry="0.9" fill="#000"/>
<ellipse cx="453.0" cy="288.7" rx="0.6" ry="0.9" fill="#000"/>
<ellipse cx="456.1" cy="293.0" rx="0.6" ry="0.9" fill="#000"/>
<ellipse cx="457.6" cy="294.9" rx="0.6" ry="0.9" fill="#000"/>
<ellipse cx="461.1" cy="300.6" rx="0.6" ry="0.9" fill="#000"/>
<ellipse cx="455.1" cy="307.3" rx="0.6" ry="0.9" fill="#000"/>
<ellipse cx="451.4" cy="312.4" rx="0.6" ry="0.9" fill="#000"/>
<ellipse cx="455.5" cy="315.2" rx="0.6" ry="0.9" fill="#000"/>
<ellipse cx="450.3" cy="321.9" rx="0.6" ry="0.9" fill="#000"/>
<text x="242.3" y="410.8" transform="rotate(0.05 242.3 410.8)" font-size="13.8" font-weight="bold" fill="#000" color="#000">f</text>
<line x1="273.6" y1="548.0" x2="277.6" y2="548.0" stroke="#5a5a5a" stroke-width="0.8" />
<text x="270.2" y="551.05" transform="rotate(0.05 270.2 551.05)" font-size="8.5" text-anchor="end" fill="#1a1a1a" color="#1a1a1a" >0</text>
<line x1="273.6" y1="521.8" x2="277.6" y2="521.8" stroke="#5a5a5a" stroke-width="0.8" />
<text x="270.2" y="524.8499999999999" transform="rotate(0.05 270.2 524.8499999999999)" font-size="8.5" text-anchor="end" fill="#1a1a1a" color="#1a1a1a" >0.2</text>
<line x1="273.6" y1="495.6" x2="277.6" y2="495.6" stroke="#5a5a5a" stroke-width="0.8" />
<text x="270.2" y="498.65000000000003" transform="rotate(0.05 270.2 498.65000000000003)" font-size="8.5" text-anchor="end" fill="#1a1a1a" color="#1a1a1a" >0.4</text>
<line x1="273.6" y1="469.4" x2="277.6" y2="469.4" stroke="#5a5a5a" stroke-width="0.8" />
<text x="270.2" y="472.45" transform="rotate(0.05 270.2 472.45)" font-size="8.5" text-anchor="end" fill="#1a1a1a" color="#1a1a1a" >0.6</text>
<line x1="273.6" y1="443.2" x2="277.6" y2="443.2" stroke="#5a5a5a" stroke-width="0.8" />
<text x="270.2" y="446.25" transform="rotate(0.05 270.2 446.25)" font-size="8.5" text-anchor="end" fill="#1a1a1a" color="#1a1a1a" >0.8</text>
<line x1="273.6" y1="417.0" x2="277.6" y2="417.0" stroke="#5a5a5a" stroke-width="0.8" />
<text x="270.2" y="420.05" transform="rotate(0.05 270.2 420.05)" font-size="8.5" text-anchor="end" fill="#1a1a1a" color="#1a1a1a" >1</text>
<text transform="translate(250.2,479.0) rotate(-90)" font-size="8.5" text-anchor="middle" fill="#1a1a1a" color="#1a1a1a">Probability score</text>
<line x1="328.5" y1="410.2" x2="328.5" y2="547.4" stroke="#b0b0b0" stroke-width="1.1" />
<line x1="401.3" y1="410.2" x2="401.3" y2="547.4" stroke="#b0b0b0" stroke-width="1.1" />
<line x1="478.4" y1="410.2" x2="478.4" y2="547.4" stroke="#b0b0b0" stroke-width="1.1" />
<line x1="525.6" y1="410.2" x2="525.6" y2="547.4" stroke="#b0b0b0" stroke-width="1.1" />
<line x1="281.3" y1="501.0" x2="580.5" y2="501.0" stroke="#b0b0b0" stroke-width="0.8" stroke-dasharray="2.8 1.9"/>
<circle cx="281.90" cy="525.40" r="2.65" fill="#4472c4"/>
<circle cx="286.50" cy="504.90" r="2.65" fill="#4472c4"/>
<circle cx="291.20" cy="512.00" r="2.65" fill="#4472c4"/>
<circle cx="295.90" cy="509.20" r="2.65" fill="#4472c4"/>
<circle cx="300.30" cy="517.20" r="2.65" fill="#4472c4"/>
<circle cx="304.80" cy="509.50" r="2.65" fill="#4472c4"/>
<circle cx="309.50" cy="461.40" r="2.65" fill="#4472c4"/>
<circle cx="314.20" cy="488.30" r="2.65" fill="#4472c4"/>
<circle cx="318.60" cy="497.00" r="2.65" fill="#4472c4"/>
<circle cx="323.30" cy="495.20" r="2.65" fill="#ff0000"/>
<circle cx="332.40" cy="441.10" r="2.65" fill="#4472c4"/>
<circle cx="337.00" cy="429.50" r="2.65" fill="#4472c4"/>
<circle cx="341.60" cy="457.80" r="2.65" fill="#4472c4"/>
<circle cx="346.30" cy="490.00" r="2.65" fill="#4472c4"/>
<circle cx="350.70" cy="467.30" r="2.65" fill="#ff0000"/>
<circle cx="355.50" cy="495.20" r="2.65" fill="#ff0000"/>
<circle cx="360.10" cy="423.70" r="2.65" fill="#ff0000"/>
<circle cx="364.60" cy="476.70" r="2.65" fill="#ff0000"/>
<circle cx="369.20" cy="496.90" r="2.65" fill="#ff0000"/>
<circle cx="373.80" cy="460.20" r="2.65" fill="#ff0000"/>
<circle cx="378.40" cy="438.10" r="2.65" fill="#ff0000"/>
<circle cx="383.00" cy="429.70" r="2.65" fill="#ff0000"/>
<circle cx="387.50" cy="423.40" r="2.65" fill="#ff0000"/>
<circle cx="392.40" cy="484.70" r="2.65" fill="#ff0000"/>
<circle cx="396.90" cy="430.30" r="2.65" fill="#ff0000"/>
<circle cx="406.10" cy="422.50" r="2.65" fill="#4472c4"/>
<circle cx="410.70" cy="442.50" r="2.65" fill="#4472c4"/>
<circle cx="415.30" cy="470.00" r="2.65" fill="#4472c4"/>
<circle cx="419.80" cy="430.20" r="2.65" fill="#4472c4"/>
<circle cx="424.60" cy="524.40" r="2.65" fill="#4472c4"/>
<circle cx="429.00" cy="430.20" r="2.65" fill="#ff0000"/>
<circle cx="433.60" cy="420.40" r="2.65" fill="#ff0000"/>
<circle cx="438.20" cy="427.30" r="2.65" fill="#ff0000"/>
<circle cx="442.70" cy="486.70" r="2.65" fill="#ff0000"/>
<circle cx="447.30" cy="436.10" r="2.65" fill="#ff0000"/>
<circle cx="451.90" cy="429.70" r="2.65" fill="#ff0000"/>
<circle cx="456.50" cy="489.40" r="2.65" fill="#ff0000"/>
<circle cx="461.10" cy="429.20" r="2.65" fill="#ff0000"/>
<circle cx="465.60" cy="437.00" r="2.65" fill="#ff0000"/>
<circle cx="470.50" cy="432.10" r="2.65" fill="#ff0000"/>
<circle cx="474.90" cy="424.70" r="2.65" fill="#ff0000"/>
<circle cx="484.30" cy="433.10" r="2.65" fill="#4472c4"/>
<circle cx="488.70" cy="462.80" r="2.65" fill="#4472c4"/>
<circle cx="493.30" cy="475.30" r="2.65" fill="#4472c4"/>
<circle cx="497.90" cy="469.70" r="2.65" fill="#4472c4"/>
<circle cx="502.50" cy="473.40" r="2.65" fill="#ff0000"/>
<circle cx="507.20" cy="443.70" r="2.65" fill="#ff0000"/>
<circle cx="511.80" cy="429.50" r="2.65" fill="#ff0000"/>
<circle cx="520.90" cy="429.20" r="2.65" fill="#4472c4"/>
<circle cx="530.10" cy="461.30" r="2.65" fill="#ff0000"/>
<circle cx="534.80" cy="420.80" r="2.65" fill="#ff0000"/>
<circle cx="539.50" cy="439.40" r="2.65" fill="#ff0000"/>
<circle cx="544.00" cy="464.70" r="2.65" fill="#ff0000"/>
<circle cx="548.50" cy="425.20" r="2.65" fill="#ff0000"/>
<circle cx="553.20" cy="431.30" r="2.65" fill="#ff0000"/>
<circle cx="557.80" cy="430.30" r="2.65" fill="#ff0000"/>
<circle cx="562.40" cy="462.40" r="2.65" fill="#ff0000"/>
<circle cx="566.90" cy="453.40" r="2.65" fill="#ff0000"/>
<circle cx="571.60" cy="457.30" r="2.65" fill="#ff0000"/>
<circle cx="576.20" cy="417.70" r="2.65" fill="#ff0000"/>
<rect x="277.6" y="410.2" width="302.9" height="137.2" fill="none" stroke="#111" stroke-width="1.3" />
<text x="303.4" y="559.3" transform="rotate(0.05 303.4 559.3)" font-size="8.5" text-anchor="middle" fill="#1a1a1a" color="#1a1a1a" >Non-cancer</text>
<text x="364.1" y="559.3" transform="rotate(0.05 364.1 559.3)" font-size="8.5" text-anchor="middle" fill="#1a1a1a" color="#1a1a1a" >Stage I</text>
<text x="439.5" y="559.3" transform="rotate(0.05 439.5 559.3)" font-size="8.5" text-anchor="middle" fill="#1a1a1a" color="#1a1a1a" >Stage II</text>
<text x="501.6" y="559.3" transform="rotate(0.05 501.6 559.3)" font-size="8.5" text-anchor="middle" fill="#1a1a1a" color="#1a1a1a" >Stage III</text>
<text x="551.9" y="559.3" transform="rotate(0.05 551.9 559.3)" font-size="8.5" text-anchor="middle" fill="#1a1a1a" color="#1a1a1a" >Stage IV</text>
<line x1="331.2" y1="565.1" x2="577.8" y2="565.1" stroke="#111" stroke-width="1.5" />
<text x="461.4" y="575.9" transform="rotate(0.05 461.4 575.9)" font-size="8.5" text-anchor="middle" fill="#1a1a1a" color="#1a1a1a" >PDAC</text>
<circle cx="586.90" cy="494.90" r="2.6" fill="#4472c4"/>
<circle cx="586.90" cy="519.70" r="2.6" fill="#ff0000"/>
<text x="593.6" y="498.2" transform="rotate(0.05 593.6 498.2)" font-size="8.5" text-anchor="start" fill="#1a1a1a" color="#1a1a1a" >CA19-9 &lt; 37</text>
<text x="593.6" y="508.1" transform="rotate(0.05 593.6 508.1)" font-size="8.5" text-anchor="start" fill="#1a1a1a" color="#1a1a1a" >U/ml</text>
<text x="593.6" y="522.7" transform="rotate(0.05 593.6 522.7)" font-size="8.5" text-anchor="start" fill="#1a1a1a" color="#1a1a1a" >CA19-9 &gt; 37</text>
<text x="593.6" y="532.6" transform="rotate(0.05 593.6 532.6)" font-size="8.5" text-anchor="start" fill="#1a1a1a" color="#1a1a1a" >U/ml</text>
</svg>
</body></html>
